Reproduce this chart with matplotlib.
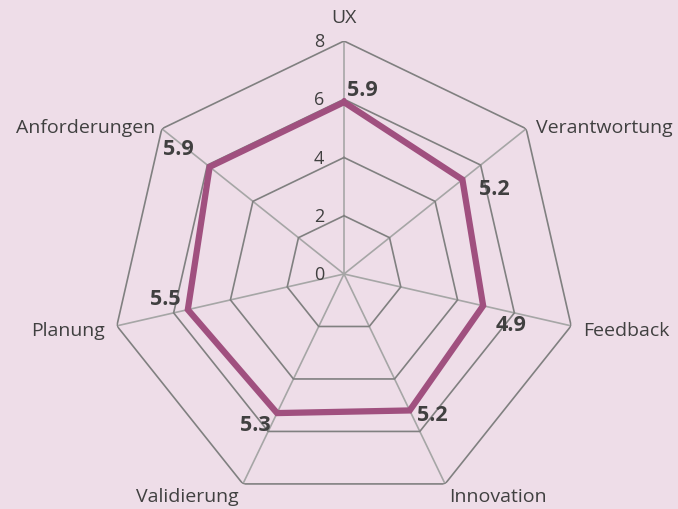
import numpy as np
import matplotlib
matplotlib.use("Agg")
import matplotlib.pyplot as plt

categories = ["UX", "Verantwortung", "Feedback", "Innovation", "Validierung", "Planung", "Anforderungen"]
values = [5.9, 5.2, 4.9, 5.2, 5.3, 5.5, 5.9]
ticks = [0, 2, 4, 6, 8]
tick_labels = ["0", "2", "4", "6", "8"]

bg = "#EEDDE8"
line_col = "#A0507F"
text_col = "#404040"

plt.rcParams['font.family'] = ['Open Sans', 'DejaVu Sans']

W, H = 678, 510
fig = plt.figure(figsize=(W / 100, H / 100), dpi=100, facecolor=bg)
cx, cy, R = 344, 275, 233
ax = fig.add_axes([(cx - R) / W, (H - cy - R) / H, 2 * R / W, 2 * R / H], projection='polar')
ax.set_facecolor(bg)
ax.patch.set_alpha(0)
ax.set_theta_zero_location('N')
ax.set_theta_direction(-1)
ax.set_ylim(0, 8)
ax.grid(False)
ax.spines['polar'].set_visible(False)
ax.set_xticks([])
ax.set_yticks([])

n = len(categories)
angles = np.linspace(0, 2 * np.pi, n, endpoint=False)
closed = np.concatenate([angles, angles[:1]])

# spokes
for a in angles:
    ax.plot([a, a], [0, 8], color="#A6A6A6", lw=1.2, zorder=1)
# grid polygons
for t in ticks[1:]:
    ax.plot(closed, [t] * (n + 1), color="#808080", lw=1.2, zorder=2)

# data
vals = np.array(values + values[:1])
ax.plot(closed, vals, color=line_col, lw=4.5, zorder=3, solid_joinstyle='miter')

# tick labels along UX spoke
for t, lab in zip(ticks, tick_labels):
    ax.annotate(lab, xy=(0, t), xytext=(-20, 0), textcoords='offset pixels',
                ha='right', va='center', fontsize=13, color=text_col)

# category labels
cat_off = [(0, 24, 'center', 'center'), (10, 2, 'left', 'center'), (12, -4, 'left', 'center'),
           (4, -12, 'left', 'center'), (-4, -12, 'right', 'center'), (-12, -4, 'right', 'center'),
           (-7, 2, 'right', 'center')]
for a, lab, (dx, dy, ha, va) in zip(angles, categories, cat_off):
    ax.annotate(lab, xy=(a, 8), xytext=(dx, dy), textcoords='offset pixels',
                ha=ha, va=va, fontsize=14, color=text_col)

# value labels
val_off = [(18, 13), (32, -9), (28, -19), (23, -4), (-22, -11), (-23, 11), (-31, 18)]
for a, v, (dx, dy) in zip(angles, values, val_off):
    ax.annotate(f"{v:.1f}", xy=(a, v), xytext=(dx, dy), textcoords='offset pixels',
                ha='center', va='center', fontsize=15.5, fontweight='bold', color=text_col)

fig.savefig("out.png", dpi=100, facecolor=bg)
